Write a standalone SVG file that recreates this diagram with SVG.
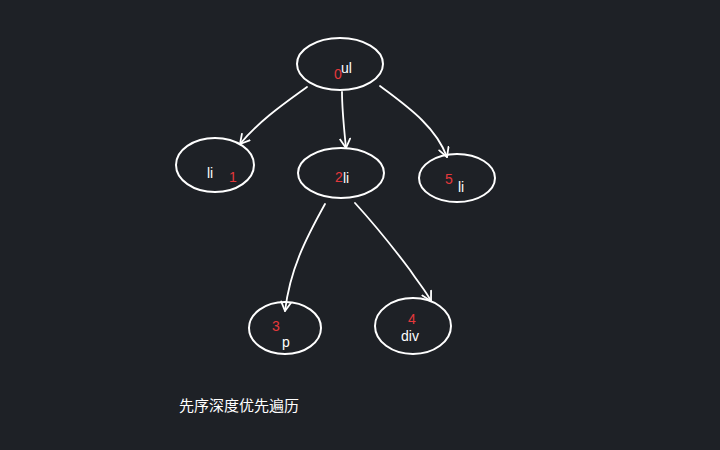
<svg xmlns="http://www.w3.org/2000/svg" width="720" height="450" viewBox="0 0 720 450">
<defs>
<style>
.n{fill:none;stroke:#ffffff;stroke-width:2}
.c{fill:none;stroke:#ffffff;stroke-width:1.8;stroke-linecap:round;stroke-linejoin:round}
.w{fill:#ffffff;font-family:"Liberation Sans",Arial,sans-serif;font-size:14px}
.r{fill:#e5383b;font-family:"Liberation Sans",Arial,sans-serif;font-size:14px}
.cap{fill:#ffffff;font-family:"Liberation Sans","Noto Sans CJK SC",sans-serif;font-size:15px}
</style>
<marker id="arr" viewBox="0 0 12 12" refX="10" refY="6" markerWidth="12" markerHeight="12" markerUnits="userSpaceOnUse" orient="auto">
<path d="M1,1 L10,6 L1,11" fill="none" stroke="#ffffff" stroke-width="1.8" stroke-linecap="round" stroke-linejoin="round"/>
</marker>
</defs>
<rect width="720" height="450" fill="#1e2126"/>
<g id="connectors">
<path class="c" d="M307,87 C285,103 260,120 240,144" marker-end="url(#arr)"/>
<path class="c" d="M342,92 C342,110 344,128 346,148" marker-end="url(#arr)"/>
<path class="c" d="M380,86 C405,105 435,125 447,157" marker-end="url(#arr)"/>
<path class="c" d="M325,204 C305,240 290,270 285,311" marker-end="url(#arr)"/>
<path class="c" d="M355,203 C375,225 395,250 410,270 C420,285 425,290 431,301" marker-end="url(#arr)"/>
</g>
<g id="node-ul">
<ellipse class="n" cx="340" cy="64" rx="43" ry="26"/>
<text class="r" x="334" y="79">0</text>
<text class="w" x="341" y="73">ul</text>
</g>
<g id="node-li1">
<ellipse class="n" cx="215" cy="165" rx="39" ry="27"/>
<text class="w" x="207" y="178">li</text>
<text class="r" x="229" y="182">1</text>
</g>
<g id="node-li2">
<ellipse class="n" cx="341" cy="173" rx="43" ry="25"/>
<text class="r" x="335" y="182">2</text>
<text class="w" x="343" y="183">li</text>
</g>
<g id="node-li5">
<ellipse class="n" cx="457" cy="178" rx="38" ry="24"/>
<text class="r" x="445" y="184">5</text>
<text class="w" x="458" y="192">li</text>
</g>
<g id="node-p">
<ellipse class="n" cx="285" cy="328" rx="36" ry="26"/>
<text class="r" x="272" y="331">3</text>
<text class="w" x="282" y="347">p</text>
</g>
<g id="node-div">
<ellipse class="n" cx="413" cy="326" rx="38" ry="28"/>
<text class="r" x="408" y="324">4</text>
<text class="w" x="401" y="341">div</text>
</g>
<text class="cap" x="179" y="411">先序深度优先遍历</text>
</svg>
